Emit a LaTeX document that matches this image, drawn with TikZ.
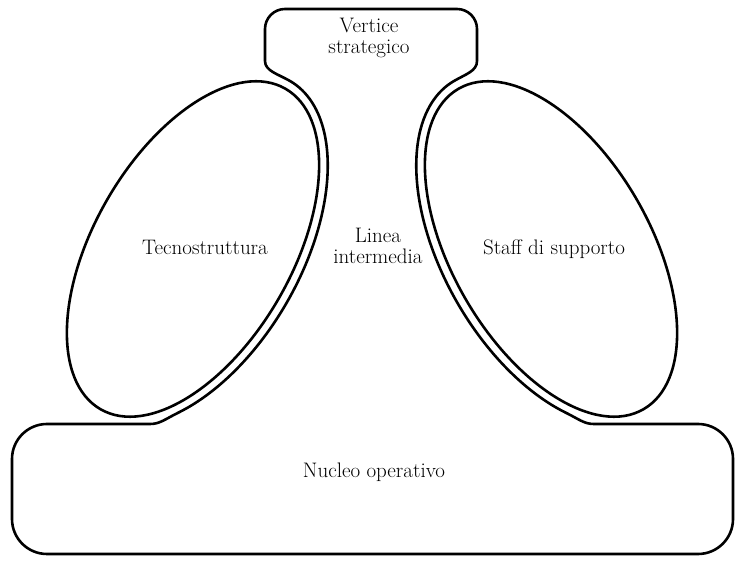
\documentclass[tikz,border=0pt]{standalone}
\usepackage{fontspec}
\usetikzlibrary{calc}

% Ellipse geometry (left lobe); the right lobe is its mirror image about x = 372
\def\cx{193}\def\cy{312}
\def\ra{185}\def\rb{99}    % lobe semi-axes
\def\oa{194}\def\ob{108}   % semi-axes of the surrounding middle-line outline
\def\tilt{60}

\begin{document}
\begin{tikzpicture}[x=1pt,y=1pt,
  outline/.style={line width=2.6pt,line join=round,line cap=round},
  label/.style={font=\fontsize{21}{21}\selectfont,align=center,inner sep=0pt}]
\useasboundingbox (0,0) rectangle (735,561);

% Points where the middle-line outline leaves the lobe offsets
\coordinate (jl) at ({\cx + 0.5*\oa*cos(-140) - 0.866*\ob*sin(-140)},
                     {\cy + 0.866*\oa*cos(-140) + 0.5*\ob*sin(-140)});
\coordinate (tl) at ({\cx + 0.5*\oa}, {\cy + 0.866*\oa});
\coordinate (jr) at ({744 - (\cx + 0.5*\oa*cos(-140) - 0.866*\ob*sin(-140))},
                     {\cy + 0.866*\oa*cos(-140) + 0.5*\ob*sin(-140)});
\coordinate (tr) at ({744 - \cx - 0.5*\oa}, {\cy + 0.866*\oa});

% Outer contour: strategic apex, middle line and operating core as one closed line
\draw[outline]
  (150,137)
  .. controls (160,137) and ($(jl)+(-13.5,-6.6)$) .. (jl)
  -- plot[domain=0:140,samples=70,smooth,variable=\t]
     ({\cx + 0.5*\oa*cos(\t-140) - 0.866*\ob*sin(\t-140)},
      {\cy + 0.866*\oa*cos(\t-140) + 0.5*\ob*sin(\t-140)})
  .. controls ($(tl)+(-12.1,7)$) and (265,490) .. (265,500)
  -- (265,532) arc[start angle=180,end angle=90,radius=20pt]
  -- (457,552) arc[start angle=90,end angle=0,radius=20pt]
  -- (477,500)
  .. controls (477,490) and ($(tr)+(12.1,7)$) .. (tr)
  -- plot[domain=0:140,samples=70,smooth,variable=\t]
     ({744 - (\cx + 0.5*\oa*cos(-\t) - 0.866*\ob*sin(-\t))},
      {\cy + 0.866*\oa*cos(-\t) + 0.5*\ob*sin(-\t)})
  .. controls ($(jr)+(13.5,-6.6)$) and (584,137) .. (594,137)
  -- (698,137) arc[start angle=90,end angle=0,radius=35pt]
  -- (733,42) arc[start angle=0,end angle=-90,radius=35pt]
  -- (47,7) arc[start angle=270,end angle=180,radius=35pt]
  -- (12,102) arc[start angle=180,end angle=90,radius=35pt]
  -- cycle;

% The two staff lobes
\draw[outline,rotate around={\tilt:(\cx,\cy)}] (\cx,\cy) ellipse[x radius=\ra pt,y radius=\rb pt];
\draw[outline,rotate around={-\tilt:(744-\cx,\cy)}] (744-\cx,\cy) ellipse[x radius=\ra pt,y radius=\rb pt];

% Labels
\node[label] (vertice) at (369,523) {Vertice\\strategico};
\node[label] (tecno)   at (205,314) {Tecnostruttura};
\node[label] (linea)   at (378,315) {Linea\\intermedia};
\node[label] (staff)   at (554,312) {Staff di supporto};
\node[label] (nucleo)  at (374,89)  {Nucleo operativo};
\end{tikzpicture}
\end{document}
